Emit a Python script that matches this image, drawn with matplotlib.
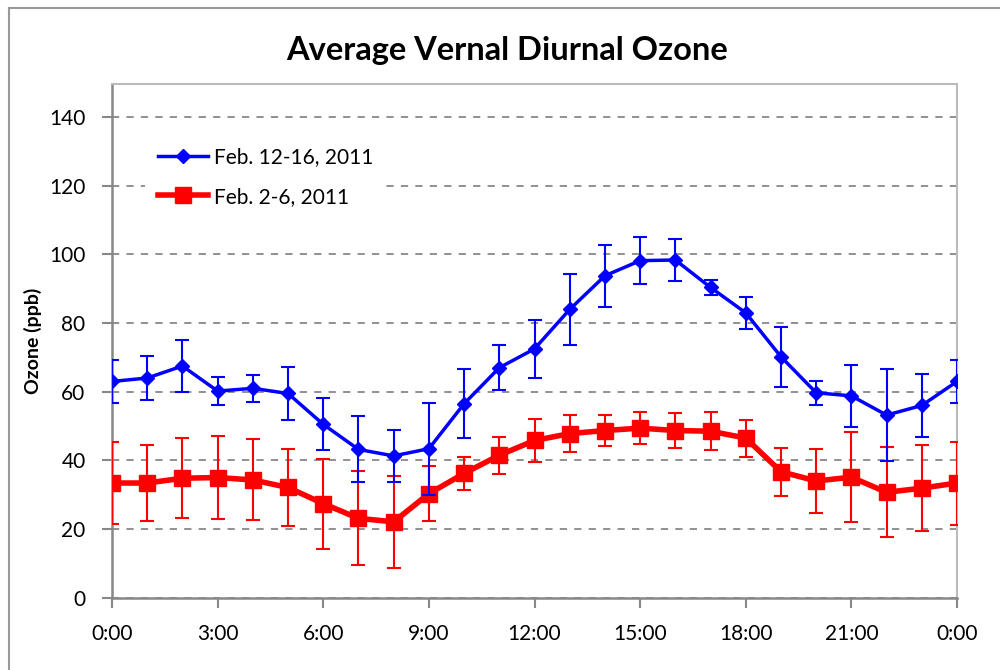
import matplotlib.pyplot as plt
from matplotlib.lines import Line2D

# hourly averages (ppb) and error bar half-widths
hours = list(range(25))
hour_ticks = [0, 3, 6, 9, 12, 15, 18, 21, 24]
hour_labels = ["0:00", "3:00", "6:00", "9:00", "12:00", "15:00", "18:00", "21:00", "0:00"]

feb12_16 = [63.0, 64.0, 67.5, 60.2, 61.0, 59.5, 50.5, 43.2, 41.3, 43.4, 56.5, 67.0, 72.5,
            84.0, 93.8, 98.2, 98.4, 90.4, 83.0, 70.2, 59.7, 58.8, 53.2, 56.0, 63.0]
feb12_16_err = [6.3, 6.4, 7.6, 4.0, 4.0, 7.6, 7.6, 9.6, 7.6, 13.4, 10.1, 6.5, 8.5,
                10.3, 9.1, 6.8, 6.2, 2.2, 4.6, 8.7, 3.5, 9.0, 13.3, 9.3, 6.2]

feb2_6 = [33.4, 33.4, 34.8, 35.0, 34.3, 32.1, 27.4, 23.1, 22.1, 30.3, 36.2, 41.5, 45.8,
          47.8, 48.7, 49.4, 48.7, 48.5, 46.5, 36.7, 34.0, 35.1, 30.7, 31.9, 33.4]
feb2_6_err = [12.0, 11.0, 11.7, 12.0, 11.8, 11.2, 13.1, 13.7, 13.4, 8.0, 4.7, 5.4, 6.2,
              5.3, 4.4, 4.6, 5.0, 5.6, 5.4, 7.0, 9.3, 13.1, 13.1, 12.6, 12.1]

plt.rcParams['font.family'] = ['Lato', 'DejaVu Sans']

fig = plt.figure(figsize=(10, 6.7), dpi=100)
ax = fig.add_axes([0.112, 0.108, 0.845, 0.7667])

# chart border
fig.add_artist(Line2D([0.009, 0.009], [0, 1 - 8 / 670], transform=fig.transFigure,
                      color='#999999', lw=1.5))
fig.add_artist(Line2D([0.009, 1], [1 - 8 / 670, 1 - 8 / 670], transform=fig.transFigure,
                      color='#999999', lw=1.5))

ax.errorbar(hours, feb2_6, yerr=feb2_6_err, color='#ff0000', lw=4, marker='s', ms=11,
            elinewidth=1.5, capsize=5, capthick=1.5, zorder=3)
ax.errorbar(hours, feb12_16, yerr=feb12_16_err, color='#0000ff', lw=2.5, marker='D', ms=7.5,
            elinewidth=1.5, capsize=5, capthick=1.5, zorder=4)

ax.set_xlim(0, 24)
ax.set_ylim(0, 149.7)
ax.set_xticks(hour_ticks)
ax.set_xticklabels(hour_labels)
ax.set_yticks(range(0, 141, 20))
ax.tick_params(colors='#888888', labelcolor='black', labelsize=15, length=7, width=1.5, direction='out')
ax.tick_params(axis='x', pad=12)
ax.tick_params(axis='y', pad=12)
ax.yaxis.grid(True, ls=(0, (4, 4)), color='#888888', lw=1.3)
ax.set_axisbelow(True)

for side in ['left', 'bottom']:
    ax.spines[side].set_color('#888888')
    ax.spines[side].set_linewidth(1.8)
for side in ['top', 'right']:
    ax.spines[side].set_color('#bbbbbb')
    ax.spines[side].set_linewidth(1.5)

ax.set_ylabel('Ozone (ppb)', fontsize=14, fontweight='bold', labelpad=5)
fig.text(0.507, 0.925, 'Average Vernal Diurnal Ozone', ha='center', va='center',
         fontsize=23.5, fontweight='bold')

legend_handles = [
    Line2D([], [], color='#0000ff', lw=2.5, marker='D', ms=7.5),
    Line2D([], [], color='#ff0000', lw=4, marker='s', ms=11),
]
leg = ax.legend(legend_handles, ['Feb. 12-16, 2011', 'Feb. 2-6, 2011'], loc='upper left',
                bbox_to_anchor=(0.027, 0.922), fontsize=15, frameon=True, facecolor='white',
                edgecolor='none', framealpha=1, handlelength=2.4, handletextpad=0.3,
                labelspacing=0.95, borderpad=0.6)
leg.set_zorder(5)

fig.savefig('out.png', dpi=100)
